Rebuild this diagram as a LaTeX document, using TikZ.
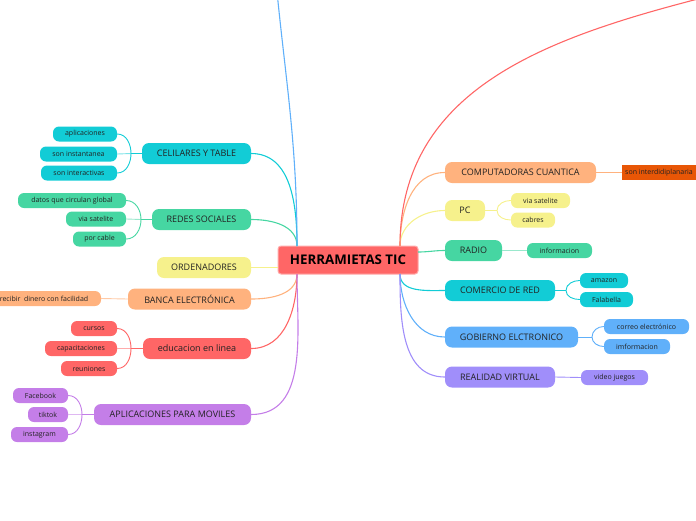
\documentclass[tikz,border=0pt]{standalone}
\usepackage{fontspec}
\setmainfont{Open Sans}
\usepackage{xcolor}
\usepackage{tikz}
\definecolor{mmcyan}{RGB}{18,204,214}
\definecolor{mmgreen}{RGB}{70,214,162}
\definecolor{mmyellow}{RGB}{246,241,140}
\definecolor{mmpeach}{RGB}{255,178,126}
\definecolor{mmcoral}{RGB}{255,102,102}
\definecolor{mmpurple}{RGB}{196,126,232}
\definecolor{mmblue}{RGB}{96,176,250}
\definecolor{mmlavender}{RGB}{160,142,250}
\definecolor{mmrust}{RGB}{232,86,6}
\definecolor{inkgray}{RGB}{34,34,34}

\begin{document}
\begin{tikzpicture}[x=1pt, y=1pt,
  hub/.style={rectangle, rounded corners=3pt, draw=mmcoral!55, line width=1pt, fill=mmcoral,
    minimum width=140pt, minimum height=28pt, font=\fontsize{13.3}{15}\selectfont\bfseries, text=black},
  topic/.style={rectangle, rounded corners=7pt, fill=#1, minimum height=21pt, inner xsep=0pt,
    font=\fontsize{9}{11}\selectfont, text=inkgray},
  leaf/.style={rectangle, rounded corners=6pt, fill=#1, minimum height=15pt, inner xsep=0pt,
    font=\fontsize{7}{8.5}\selectfont, text=inkgray},
  link/.style={draw=#1, line width=1.1pt},
  twig/.style={draw=#1, line width=0.9pt}]
\useasboundingbox (0,0) rectangle (696,-520);
\clip (0,0) rectangle (696,-520);

% centre
\node[hub] (tic) at (348,-260) {HERRAMIETAS TIC};
\coordinate (lt) at (297,-246);
\coordinate (lb) at (297,-274);
\coordinate (rt) at (400,-246);
\coordinate (rb) at (400,-274);
\coordinate (re) at (418,-252);
\coordinate (upb) at (274,40);
\coordinate (upr) at (820,32);

% left side
\node[topic=mmcyan, minimum width=109pt] (cel) at (196.5,-153.5) {CELILARES Y TABLE};
\node[topic=mmgreen, minimum width=99pt] (soc) at (201.5,-219.5) {REDES SOCIALES};
\node[topic=mmyellow, minimum width=94pt] (ord) at (204,-267.5) {ORDENADORES};
\node[topic=mmpeach, minimum width=123pt] (ban) at (189.5,-299) {BANCA ELECTRÓNICA};
\node[topic=mmcoral, minimum width=108pt] (edu) at (197,-348.5) {educacion en linea};
\node[topic=mmpurple, minimum width=157pt] (app) at (172.5,-414.5) {APLICACIONES PARA MOVILES};

\node[leaf=mmcyan, minimum width=64pt] (apl) at (85,-134) {aplicaciones};
\node[leaf=mmcyan, minimum width=77pt] (ins) at (78.5,-154) {son instantanea};
\node[leaf=mmcyan, minimum width=76pt] (inte) at (79,-173) {son interactivas};
\node[leaf=mmgreen, minimum width=108pt] (dat) at (72,-200.5) {datos que circulan global};
\node[leaf=mmgreen, minimum width=60pt] (vsa) at (96,-219) {via satelite};
\node[leaf=mmgreen, minimum width=53pt] (cab) at (99.5,-239) {por cable};
\node[leaf=mmpeach, minimum width=114pt] (rec) at (44,-298.5) {recibir\ \ dinero con facilidad};
\node[leaf=mmcoral, minimum width=46pt] (cur) at (94,-328.5) {cursos};
\node[leaf=mmcoral, minimum width=72pt] (cap) at (81,-348.5) {capacitaciones};
\node[leaf=mmcoral, minimum width=56pt] (reu) at (89,-368.5) {reuniones};
\node[leaf=mmpurple, minimum width=55pt] (fac) at (40.5,-395.5) {Facebook};
\node[leaf=mmpurple, minimum width=40pt] (tik) at (48,-414.5) {tiktok};
\node[leaf=mmpurple, minimum width=57pt] (ing) at (39.5,-434.5) {instagram};

% right side
\node[topic=mmpeach, minimum width=151pt] (qua) at (520.5,-172.5) {COMPUTADORAS CUANTICA};
\node[topic=mmyellow, minimum width=40pt] (pc) at (465,-210.5) {PC};
\node[topic=mmgreen, minimum width=57pt] (rad) at (473.5,-250.5) {RADIO};
\node[topic=mmcyan, minimum width=110pt] (com) at (500,-290.5) {COMERCIO DE RED};
\node[topic=mmblue, minimum width=133pt] (gob) at (511.5,-337) {GOBIERNO ELCTRONICO};
\node[topic=mmlavender, minimum width=110pt] (rv) at (500,-377) {REALIDAD VIRTUAL};

\node[leaf=mmrust, rounded corners=0pt, anchor=west, inner xsep=3pt] (idp) at (622,-172.5) {son interdidiplanaria};
\node[leaf=mmyellow, minimum width=59pt] (vsb) at (540.5,-200.5) {via satelite};
\node[leaf=mmyellow, minimum width=44pt] (cbr) at (533,-220) {cabres};
\node[leaf=mmgreen, minimum width=65pt] (inf) at (559.5,-250.5) {informacion};
\node[leaf=mmcyan, minimum width=48pt] (ama) at (604,-280.5) {amazon};
\node[leaf=mmcyan, minimum width=53pt] (fal) at (606.5,-299.5) {Falabella};
\node[leaf=mmblue, minimum width=85pt] (cor) at (646.5,-326.5) {correo electrónico};
\node[leaf=mmblue, minimum width=66pt] (imf) at (637,-346.5) {imformacion};
\node[leaf=mmlavender, minimum width=67pt] (vj) at (614.5,-377.5) {video juegos};

% joints
\coordinate (jcel) at (131,-153.5);
\coordinate (jsoc) at (141,-219.5);
\coordinate (jedu) at (131,-348.5);
\coordinate (japp) at (82,-414.5);
\coordinate (jpc) at (497,-210.5);
\coordinate (jcom) at (566,-290.5);
\coordinate (jgob) at (592,-337);

% main links
\foreach \b/\c in {cel/mmcyan, soc/mmgreen}
  \draw[link=\c] (lt) to[out=90,in=0] (\b.east);
\foreach \b/\c in {ban/mmpeach, edu/mmcoral, app/mmpurple}
  \draw[link=\c] (lb) to[out=-90,in=0] (\b.east);
\draw[link=mmyellow] (ord.east) -- (ord.east -| tic.west);
\foreach \b/\c in {qua/mmpeach, pc/mmyellow}
  \draw[link=\c] (rt) to[out=90,in=180] (\b.west);
\draw[link=mmgreen] (re) to[out=0,in=180] (rad.west);
\foreach \b/\c in {com/mmcyan, gob/mmblue, rv/mmlavender}
  \draw[link=\c] (rb) to[out=-90,in=180] (\b.west);
\draw[link=mmblue] (lt) to[out=90,in=-85] (upb);
\draw[link=mmcoral] (rt) to[out=90,in=195] (upr);

% sub links, left
\foreach \p/\j/\u/\m/\d/\c in {cel/jcel/apl/ins/inte/mmcyan, soc/jsoc/dat/vsa/cab/mmgreen,
    edu/jedu/cur/cap/reu/mmcoral, app/japp/fac/tik/ing/mmpurple} {
  \draw[twig=\c] (\p.west) -- (\j);
  \draw[twig=\c!55] (\j) -- (\m.east);
  \draw[twig=\c] (\j) to[out=90,in=0] (\u.east);
  \draw[twig=\c] (\j) to[out=-90,in=0] (\d.east);
}
\draw[twig=mmpeach!70] (ban.west) -- (rec.east);

% sub links, right
\foreach \p/\j/\u/\d/\c in {pc/jpc/vsb/cbr/mmyellow, com/jcom/ama/fal/mmcyan, gob/jgob/cor/imf/mmblue} {
  \draw[twig=\c] (\p.east) -- (\j);
  \draw[twig=\c] (\j) to[out=90,in=180] (\u.west);
  \draw[twig=\c] (\j) to[out=-90,in=180] (\d.west);
}
\draw[twig=mmpeach] (qua.east) -- (idp.west);
\draw[twig=mmgreen!55] (rad.east) -- (inf.west);
\draw[twig=mmlavender] (rv.east) -- (vj.west);
\end{tikzpicture}
\end{document}
